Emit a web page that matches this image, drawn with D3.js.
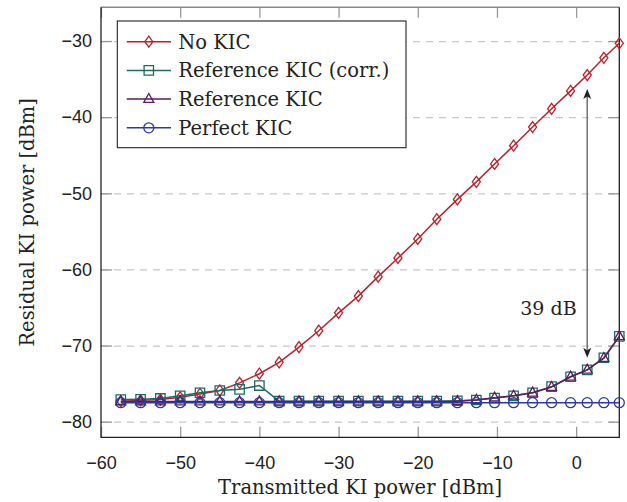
<!DOCTYPE html>
<html>
<head>
<meta charset="utf-8">
<script src="https://cdn.jsdelivr.net/npm/d3@7"></script>
<style>
  body { margin: 0; background: #fff; }
  svg { display: block; font-family: "DejaVu Serif", serif; }
  .grid line { stroke: #c8c8c8; stroke-width: 1.2; stroke-dasharray: 7,6; }
  .grid path { display: none; }
  .tick-in line { stroke: #999; stroke-width: 1.3; }
  .tick-in path { display: none; }
  .tick-in text { font-size: 18px; fill: #222; }
</style>
</head>
<body>
<svg width="627" height="502"></svg>
<script>
// transmitted KI power [dBm]
const xValues = [-57.5, -55, -52.5, -50, -47.5, -45, -42.5, -40, -37.5, -35,
  -32.5, -30, -27.5, -25, -22.5, -20, -17.6, -15.0, -12.6, -10.3,
  -7.9, -5.5, -3.1, -0.7, 1.4, 3.5, 5.45];

// residual KI power [dBm]
const noKic = [-77.3, -77.2, -77.1, -76.8, -76.35, -75.9, -74.9, -73.7, -72.2, -70.2,
  -68.05, -65.7, -63.5, -60.95, -58.5, -56.0, -53.4, -50.8, -48.5, -46.15,
  -43.75, -41.3, -38.9, -36.55, -34.47, -32.2, -30.3];

const refKicCorr = [-77.1, -77.05, -76.95, -76.6, -76.2, -75.9, -75.75, -75.25, -77.3, -77.3,
  -77.3, -77.3, -77.3, -77.3, -77.3, -77.3, -77.3, -77.25, -77.15, -76.9,
  -76.6, -76.2, -75.4, -74.1, -73.2, -71.6, -68.8];

const refKic = [-77.35, -77.35, -77.35, -77.35, -77.35, -77.35, -77.35, -77.35, -77.35, -77.35,
  -77.35, -77.35, -77.35, -77.35, -77.35, -77.35, -77.35, -77.3, -77.15, -76.85,
  -76.6, -76.2, -75.45, -74.1, -73.2, -71.65, -68.8];

const perfectKic = [-77.5, -77.5, -77.5, -77.5, -77.5, -77.5, -77.5, -77.5, -77.5, -77.5,
  -77.5, -77.5, -77.5, -77.5, -77.5, -77.5, -77.5, -77.5, -77.5, -77.5,
  -77.5, -77.5, -77.5, -77.5, -77.5, -77.5, -77.5];

const seriesNames = ["No KIC", "Reference KIC (corr.)", "Reference KIC", "Perfect KIC"];
const seriesColors = ["#b8232b", "#1c6b62", "#5a1d5f", "#2c3a9e"];
const seriesMarks = ["diamond", "square", "triangle", "circle"];
const seriesValues = [noKic, refKicCorr, refKic, perfectKic];

const xTicks = [-60, -50, -40, -30, -20, -10, 0];
const yTicks = [-80, -70, -60, -50, -40, -30];

// annotation: gap between No KIC and Reference KIC
const gapX = 1.4;
const gapTop = -36.3;
const gapBottom = -71.6;
const gapLabel = "39 dB";

const svg = d3.select("svg");
const plot = {left: 101, right: 619.3, top: 7.3, bottom: 437.3};

const x = d3.scaleLinear().domain([-60, 5.45]).range([plot.left, plot.right]);
const y = d3.scaleLinear().domain([-82.05, -25.57]).range([plot.bottom, plot.top]);

// horizontal dashed grid
svg.append("g")
  .attr("class", "grid")
  .attr("transform", `translate(${plot.left},0)`)
  .call(d3.axisLeft(y).tickValues(yTicks).tickSize(-(plot.right - plot.left)).tickFormat(""));

// ticks (inside)
svg.append("g")
  .attr("class", "tick-in")
  .attr("transform", `translate(0,${plot.bottom})`)
  .call(d3.axisBottom(x).tickValues(xTicks).tickSize(-10.5).tickPadding(19));

svg.append("g")
  .attr("class", "tick-in")
  .attr("transform", `translate(0,${plot.top})`)
  .call(d3.axisTop(x).tickValues(xTicks).tickSize(-10.5).tickFormat(""));

svg.append("g")
  .attr("class", "tick-in")
  .attr("transform", `translate(${plot.left},0)`)
  .call(d3.axisLeft(y).tickValues(yTicks).tickSize(-11).tickPadding(9));

svg.append("g")
  .attr("class", "tick-in")
  .attr("transform", `translate(${plot.right},0)`)
  .call(d3.axisRight(y).tickValues(yTicks).tickSize(-11).tickFormat(""));

// frame
svg.append("line")
  .attr("x1", plot.left).attr("x2", plot.right)
  .attr("y1", plot.top).attr("y2", plot.top)
  .attr("stroke", "#8a8a8a").attr("stroke-width", 1.6);
svg.append("path")
  .attr("d", `M${plot.left},${plot.top} V${plot.bottom} H${plot.right} V${plot.top}`)
  .attr("fill", "none").attr("stroke", "#222").attr("stroke-width", 1.3);

function markPath(type) {
  if (type === "diamond") return "M0,-5.5L4,0L0,5.5L-4,0Z";
  if (type === "square") return "M-4.7,-4.7H4.7V4.7H-4.7Z";
  if (type === "triangle") return "M0,-5.6L5,3.3H-5Z";
  return "M5,0A5,5 0 1,1 -5,0A5,5 0 1,1 5,0Z";
}

const line = d3.line()
  .x(d => x(d[0]))
  .y(d => y(d[1]));

seriesValues.forEach(function(values, i) {
  const pts = xValues.map((v, j) => [v, values[j]]);
  const g = svg.append("g");

  g.append("path")
    .datum(pts)
    .attr("d", line)
    .attr("fill", "none")
    .attr("stroke", seriesColors[i])
    .attr("stroke-width", 1.5);

  g.selectAll("path.mark")
    .data(pts)
    .enter()
    .append("path")
    .attr("class", "mark")
    .attr("d", markPath(seriesMarks[i]))
    .attr("transform", d => `translate(${x(d[0])},${y(d[1])})`)
    .attr("fill", "none")
    .attr("stroke", seriesColors[i])
    .attr("stroke-width", 1.3);
});

// double arrow
const ax = x(gapX);
svg.append("line")
  .attr("x1", ax).attr("x2", ax)
  .attr("y1", y(gapTop) + 7).attr("y2", y(gapBottom) - 7)
  .attr("stroke", "#777").attr("stroke-width", 1.6);
svg.append("path")
  .attr("d", `M${ax},${y(gapTop)} l4,10 l-4,-2.5 l-4,2.5Z`)
  .attr("fill", "#222");
svg.append("path")
  .attr("d", `M${ax},${y(gapBottom)} l4,-10 l-4,2.5 l-4,-2.5Z`)
  .attr("fill", "#222");
svg.append("text")
  .attr("x", x(-3.5)).attr("y", y(-65.07))
  .attr("text-anchor", "middle")
  .attr("dy", "0.35em")
  .attr("font-size", 19)
  .attr("fill", "#222")
  .text(gapLabel);

// legend
const legend = svg.append("g");
legend.append("rect")
  .attr("x", 117.3).attr("y", 21)
  .attr("width", 288.7).attr("height", 126.7)
  .attr("fill", "#fff")
  .attr("stroke", "#222").attr("stroke-width", 1.1);

seriesNames.forEach(function(name, i) {
  const ly = 41.7 + i * 28.7;
  legend.append("line")
    .attr("x1", 126.7).attr("x2", 171)
    .attr("y1", ly).attr("y2", ly)
    .attr("stroke", seriesColors[i]).attr("stroke-width", 1.5);
  legend.append("path")
    .attr("d", markPath(seriesMarks[i]))
    .attr("transform", `translate(148.8,${ly})`)
    .attr("fill", "none")
    .attr("stroke", seriesColors[i]).attr("stroke-width", 1.3);
  legend.append("text")
    .attr("x", 178.3).attr("y", ly)
    .attr("dy", "0.35em")
    .attr("font-size", 19.5)
    .attr("fill", "#222")
    .text(name);
});

// axis titles
svg.append("text")
  .attr("x", (plot.left + plot.right) / 2).attr("y", 494)
  .attr("text-anchor", "middle")
  .attr("font-size", 19.5)
  .attr("fill", "#222")
  .text("Transmitted KI power [dBm]");

svg.append("text")
  .attr("transform", `translate(34,${(plot.top + plot.bottom) / 2}) rotate(-90)`)
  .attr("text-anchor", "middle")
  .attr("font-size", 19.5)
  .attr("fill", "#222")
  .text("Residual KI power [dBm]");
</script>
</body>
</html>
